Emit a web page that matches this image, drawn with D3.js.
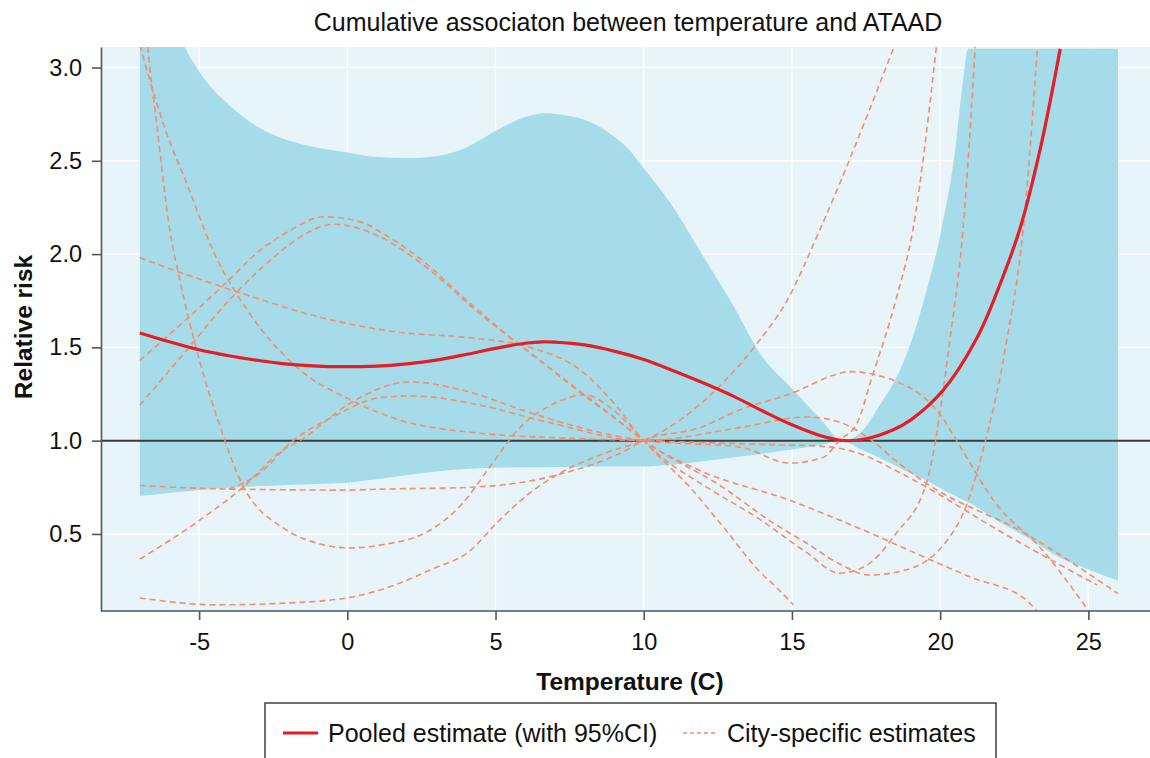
<!DOCTYPE html>
<html>
<head>
<meta charset="utf-8">
<script src="https://cdn.jsdelivr.net/npm/d3@7"></script>
<style>
  body { margin: 0; background: #fff; }
  text { font-family: "Liberation Sans", Arial, sans-serif; }
</style>
</head>
<body>
<svg id="chart" width="1150" height="758"></svg>
<script>
// - - - - - - - - - -
// data
// - - - - - - - - - -
const xTicks = [-5, 0, 5, 10, 15, 20, 25];
const yTicks = [0.5, 1.0, 1.5, 2.0, 2.5, 3.0];

// pooled estimate
const pooledTemp = [-7, -6, -5, -4, -3, -2, -1, -0.3, 1, 2, 3, 4, 5, 6, 6.6, 7, 8, 9, 10, 11, 12, 13, 14, 15, 16, 16.8, 17.5, 18.4, 19, 20.1, 21.24, 22, 22.7, 23.4, 24.05];
const pooledRR = [1.577, 1.53, 1.487, 1.455, 1.43, 1.41, 1.40, 1.397, 1.40, 1.412, 1.432, 1.462, 1.495, 1.522, 1.53, 1.528, 1.513, 1.48, 1.435, 1.375, 1.31, 1.24, 1.16, 1.085, 1.025, 1.0, 1.01, 1.057, 1.11, 1.27, 1.55, 1.83, 2.14, 2.58, 3.10];

// 95% CI of the pooled estimate
const ciTemp = [-7, -6.5, -6, -5.5, -5, -4, -3, -2, -1, 0, 1, 2, 3, 4, 5, 6, 6.7, 7.5, 8, 9, 9.5, 10, 10.5, 11, 12, 13, 14, 15, 16, 16.7, 17.3, 18, 18.5, 19, 19.5, 20, 20.5, 20.75, 20.95, 22, 23, 24, 25, 26];
const ciUpper = [4.3, 3.75, 3.38, 3.12, 2.98, 2.80, 2.68, 2.61, 2.57, 2.545, 2.52, 2.515, 2.525, 2.57, 2.66, 2.735, 2.755, 2.74, 2.72, 2.63, 2.56, 2.46, 2.36, 2.25, 1.99, 1.73, 1.45, 1.28, 1.11, 1.0, 1.04, 1.2, 1.33, 1.52, 1.78, 2.1, 2.55, 2.9, 3.1, 3.1, 3.1, 3.1, 3.1, 3.1];
const ciLower = [0.704, 0.712, 0.72, 0.728, 0.736, 0.748, 0.755, 0.762, 0.768, 0.775, 0.793, 0.815, 0.835, 0.848, 0.855, 0.857, 0.858, 0.859, 0.86, 0.861, 0.861, 0.862, 0.866, 0.872, 0.89, 0.91, 0.93, 0.952, 0.978, 1.0, 0.955, 0.905, 0.865, 0.825, 0.79, 0.745, 0.705, 0.685, 0.67, 0.565, 0.475, 0.376, 0.31, 0.25];

// city-specific estimates, [temperature, relative risk]
const city1 = [[-7, 3.7], [-6.73, 3.11], [-6.44, 2.71], [-5.99, 2.13], [-5.65, 1.86], [-4.97, 1.42], [-4.3, 1.08], [-3.62, 0.79], [-2.04, 0.52], [-1, 0.45], [0.09, 0.425], [1.1, 0.44], [2.79, 0.52], [3.9, 0.666], [4.81, 0.86], [5.82, 1.07], [7.0, 1.20], [8.0, 1.245], [8.97, 1.165], [10, 1.0], [10.55, 0.91], [11.56, 0.75], [12.67, 0.54], [13.9, 0.3], [14.5, 0.21], [15.05, 0.12]];
const city2 = [[-7, 3.12], [-6.49, 2.84], [-6.1, 2.65], [-5.42, 2.38], [-4.53, 2.02], [-3.29, 1.68], [-1.6, 1.38], [0.09, 1.22], [1.78, 1.11], [4.47, 1.04], [7.17, 1.015], [10, 1.0], [12, 0.99], [14, 0.98], [16, 0.97], [17.3, 0.93], [18.5, 0.84], [19.55, 0.75], [21.8, 0.535], [25.3, 0.226]];
const city3 = [[-7, 1.98], [-3.86, 1.805], [-0.49, 1.645], [1.78, 1.58], [3.9, 1.555], [6.16, 1.50], [7.85, 1.38], [9, 1.2], [10, 1.0], [10.44, 0.934], [12.13, 0.75], [13.8, 0.59], [15.5, 0.40], [16.6, 0.29], [17.5, 0.33], [18.5, 0.5], [19.55, 0.78], [20.33, 1.54], [20.77, 2.13], [21.2, 3.15]];
const city4 = [[-7, 1.43], [-5.5, 1.64], [-4, 1.86], [-2.95, 2.02], [-2, 2.12], [-0.8, 2.20], [0.5, 2.17], [1.1, 2.12], [2.5, 1.97], [3.9, 1.77], [5.6, 1.54], [7.4, 1.32], [8.96, 1.13], [10, 1.0], [12.67, 0.75], [14.36, 0.56], [15.5, 0.45], [16.6, 0.34], [17.6, 0.28], [18.9, 0.31], [20.67, 0.575], [21.45, 0.95], [22.25, 1.54], [22.8, 2.13], [23.3, 3.15]];
const city5 = [[-7, 1.19], [-5.5, 1.47], [-4, 1.75], [-2.5, 1.98], [-1.5, 2.1], [-0.47, 2.16], [1, 2.1], [2.5, 1.95], [4.47, 1.68], [6.5, 1.43], [8, 1.24], [9.2, 1.1], [10, 1.0], [11.9, 0.84], [14.93, 0.68], [17.2, 0.535], [19.55, 0.37], [21, 0.27], [22.9, 0.146], [23.3, 0.08]];
const city6 = [[-7, 0.76], [-5, 0.745], [-3.8, 0.74], [0, 0.735], [1.1, 0.74], [4.14, 0.75], [7.07, 0.816], [9.43, 0.95], [10, 1.0], [11.9, 1.07], [13.24, 1.165], [14.93, 1.25], [16.6, 1.36], [16.9, 1.37], [18.9, 1.29], [20, 1.14], [20.67, 0.97], [21.8, 0.68], [23.47, 0.41], [25, 0.09]];
const city7 = [[-7, 0.365], [-4.97, 0.575], [-3.52, 0.75], [-2.17, 0.95], [-1.6, 1.0], [0.09, 1.2], [2.1, 1.315], [3.9, 1.27], [6.16, 1.15], [7.85, 1.07], [10, 1.0], [13.24, 0.966], [14.93, 0.88], [16.05, 0.91], [16.6, 1.0], [17.2, 1.095], [17.7, 1.34], [18.5, 1.75], [19.08, 2.13], [19.9, 3.15]];
const city8 = [[-7, 0.157], [-4.4, 0.12], [-2, 0.13], [0.09, 0.16], [1.78, 0.237], [2.79, 0.307], [4.14, 0.41], [5.05, 0.56], [6.16, 0.72], [7, 0.81], [8, 0.89], [9, 0.95], [10, 1.0], [12.67, 1.31], [13.82, 1.52], [14.83, 1.75], [15.94, 2.13], [18.54, 3.15]];
const city9 = [[-4, 0.74], [-3, 0.82], [-1.83, 1.0], [-0.49, 1.127], [1.1, 1.23], [2.2, 1.24], [4.47, 1.19], [6.73, 1.1], [10, 1.0], [13.24, 1.07], [15.5, 1.127], [16.6, 1.1], [17.7, 1.0], [18.6, 0.88], [19.55, 0.77], [22.9, 0.5], [26, 0.18]];
const cities = [city1, city2, city3, city4, city5, city6, city7, city8, city9];

// - - - - - - - - - -
const W = 1150, H = 758;
const plot = { left: 101, top: 47, right: 1150, bottom: 611 };

const panelColor = '#e7f4f9';
const bandColor = '#a6dcea';
const pooledColor = '#e41e26';
const cityColor = '#f48d6c';
const axisColor = '#555';

const svg = d3.select('#chart');

const x = d3.scaleLinear().domain([-8.31, 27.08]).range([plot.left, plot.right]);
const y = d3.scaleLinear().domain([0.087, 3.11]).range([plot.bottom, plot.top]);

svg.append('defs').append('clipPath').attr('id', 'clip')
    .append('rect')
    .attr('x', plot.left).attr('y', plot.top)
    .attr('width', plot.right - plot.left).attr('height', plot.bottom - plot.top);

// panel
svg.append('rect')
    .attr('x', plot.left).attr('y', plot.top)
    .attr('width', plot.right - plot.left).attr('height', plot.bottom - plot.top)
    .attr('fill', panelColor);

// grid
const grid = svg.append('g');
grid.selectAll('.gx').data(xTicks).join('line')
    .attr('x1', d => x(d)).attr('x2', d => x(d))
    .attr('y1', plot.top).attr('y2', plot.bottom)
    .attr('stroke', '#fff').attr('stroke-width', 1.4);
grid.selectAll('.gy').data(yTicks).join('line')
    .attr('x1', plot.left).attr('x2', plot.right)
    .attr('y1', d => y(d)).attr('y2', d => y(d))
    .attr('stroke', '#fff').attr('stroke-width', 1.4);

const inner = svg.append('g').attr('clip-path', 'url(#clip)');

// confidence band
const ci = ciTemp.map((t, i) => ({ t: t, lo: ciLower[i], hi: ciUpper[i] }));
const band = d3.area()
    .x(d => x(d.t))
    .y0(d => y(d.lo))
    .y1(d => y(d.hi))
    .curve(d3.curveMonotoneX);
inner.append('path').datum(ci)
    .attr('d', band)
    .attr('fill', bandColor);

// reference line at 1
inner.append('line')
    .attr('x1', plot.left).attr('x2', plot.right)
    .attr('y1', y(1)).attr('y2', y(1))
    .attr('stroke', '#3b3b3b').attr('stroke-width', 2);

// city curves
const cityLine = d3.line()
    .x(d => x(d[0]))
    .y(d => y(d[1]))
    .curve(d3.curveMonotoneX);
inner.selectAll('.city').data(cities).join('path')
    .attr('class', 'city')
    .attr('d', cityLine)
    .attr('fill', 'none')
    .attr('stroke', cityColor)
    .attr('stroke-width', 1.6)
    .attr('stroke-dasharray', '6,4');

// pooled curve
const pooled = pooledTemp.map((t, i) => [t, pooledRR[i]]);
const pooledLine = d3.line()
    .x(d => x(d[0]))
    .y(d => y(d[1]))
    .curve(d3.curveCatmullRom.alpha(0.5));
inner.append('path').datum(pooled)
    .attr('d', pooledLine)
    .attr('fill', 'none')
    .attr('stroke', pooledColor)
    .attr('stroke-width', 3.2);

// axes
const xAxis = svg.append('g')
    .attr('transform', `translate(0,${plot.bottom})`)
    .call(d3.axisBottom(x).tickValues(xTicks).tickFormat(d => String(d))
        .tickSize(9).tickPadding(13).tickSizeOuter(0));
const yAxis = svg.append('g')
    .attr('transform', `translate(${plot.left},0)`)
    .call(d3.axisLeft(y).tickValues(yTicks).tickFormat(d3.format('.1f'))
        .tickSize(9).tickPadding(10).tickSizeOuter(0));

[xAxis, yAxis].forEach(g => {
    g.select('.domain').attr('stroke', axisColor).attr('stroke-width', 1.6);
    g.selectAll('.tick line').attr('stroke', axisColor).attr('stroke-width', 1.6);
    g.selectAll('.tick text')
        .attr('fill', '#111')
        .style('font-size', '23.5px')
        .style('font-family', '"Liberation Sans", Arial, sans-serif');
});
xAxis.select('.domain').attr('d', `M${plot.left},0H${W}`);

// title and labels
svg.append('text')
    .attr('x', 628).attr('y', 31)
    .attr('text-anchor', 'middle')
    .style('font-size', '25px')
    .attr('fill', '#111')
    .text('Cumulative associaton between temperature and ATAAD');

svg.append('text')
    .attr('transform', `translate(32,${(plot.top + plot.bottom) / 2 - 2}) rotate(-90)`)
    .attr('text-anchor', 'middle')
    .style('font-size', '24.5px')
    .style('font-weight', 'bold')
    .attr('fill', '#111')
    .text('Relative risk');

svg.append('text')
    .attr('x', 630).attr('y', 690)
    .attr('text-anchor', 'middle')
    .style('font-size', '24.5px')
    .style('font-weight', 'bold')
    .attr('fill', '#111')
    .text('Temperature (C)');

// legend
const legend = svg.append('g');
legend.append('rect')
    .attr('x', 265).attr('y', 703)
    .attr('width', 731).attr('height', 70)
    .attr('fill', '#fff')
    .attr('stroke', '#333').attr('stroke-width', 1.4);
legend.append('line')
    .attr('x1', 283).attr('x2', 318).attr('y1', 733).attr('y2', 733)
    .attr('stroke', pooledColor).attr('stroke-width', 3.2);
legend.append('text')
    .attr('x', 328).attr('y', 742)
    .style('font-size', '25px').attr('fill', '#111')
    .text('Pooled estimate (with 95%CI)');
legend.append('line')
    .attr('x1', 683).attr('x2', 718).attr('y1', 733).attr('y2', 733)
    .attr('stroke', cityColor).attr('stroke-width', 1.6)
    .attr('stroke-dasharray', '4,3');
legend.append('text')
    .attr('x', 727).attr('y', 742)
    .style('font-size', '25px').attr('fill', '#111')
    .text('City-specific estimates');
</script>
</body>
</html>
